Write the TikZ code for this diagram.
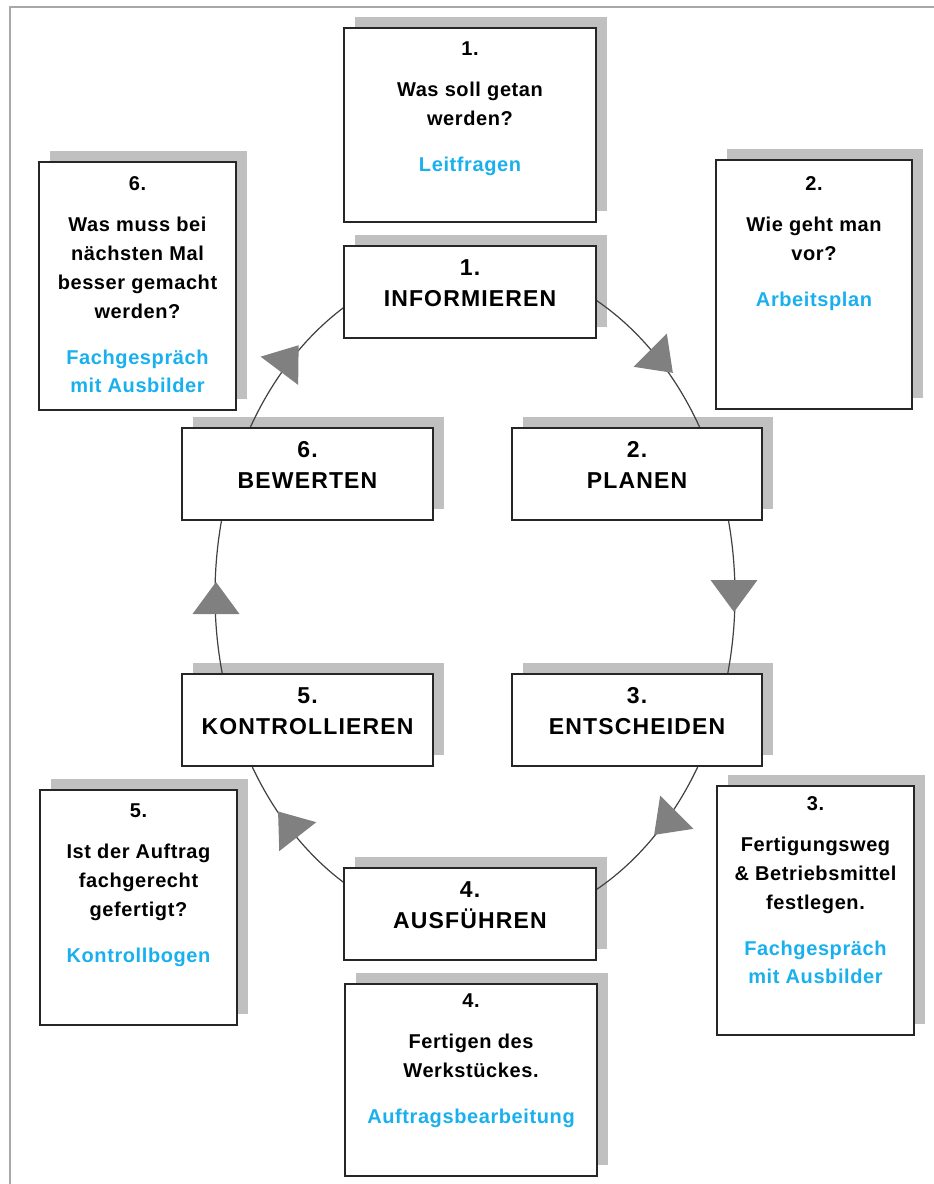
\documentclass[tikz,border=0pt]{standalone}
\usepackage{fontspec}
\setmainfont{Liberation Sans}
\newfontfamily\mainf{Liberation Sans}[LetterSpace=5]
\newfontfamily\infof{Liberation Sans}[LetterSpace=3]
\definecolor{infoblue}{HTML}{1AB0EE}
\definecolor{shadowgray}{HTML}{C0C0C0}
\definecolor{arrowgray}{HTML}{808080}
\definecolor{ringgray}{HTML}{404040}
\definecolor{boxline}{HTML}{262626}
\definecolor{framegray}{HTML}{A8A8A8}
\pgfdeclarelayer{shadowlayer}
\pgfdeclarelayer{ringlayer}
\pgfsetlayers{shadowlayer,ringlayer,main}
\newcommand{\mtext}[4]{\begin{minipage}[t][#2pt][t]{#1pt}\centering\mainf\bfseries\fontsize{23}{31}\selectfont\rule{0pt}{29.5pt}#3\\#4\end{minipage}}
\newcommand{\itext}[6]{\begin{minipage}[t][#2pt][t]{#1pt}\centering\infof\bfseries\fontsize{20}{29}\selectfont\rule{0pt}{#3pt}#4\\[12pt]#5\\[17pt]\color{infoblue}#6\end{minipage}}
\tikzset{
  box/.style={draw=boxline, line width=1.5pt, fill=white, inner sep=0pt, outer sep=0pt, anchor=north west},
  shadowfill/.style={fill=shadowgray},
  tri/.style={fill=arrowgray},
  ring/.style={draw=ringgray, line width=1.2pt},
}
\newcommand{\shadowof}[1]{\fill[shadowfill] ([shift={(11,-11)}]#1.south west) rectangle ([shift={(11,-11)}]#1.north east);}
\newcommand{\arrowat}[3]{\fill[tri, shift={(#1,#2)}, rotate=#3] (21,0) -- (-11,23.5) -- (-11,-23.5) -- cycle;}
\begin{document}
\begin{tikzpicture}[x=1pt,y=-1pt]
\useasboundingbox (0,0) rectangle (934,1184);
\draw[framegray, line width=1.5pt] (10,1184) -- (10,7) -- (934,7);

% info boxes
\node[box] (t1) at (344,28) {\itext{252}{194}{27}{1.}{Was soll getan\\werden?}{Leitfragen}};
\node[box] (t2) at (716,160) {\itext{196}{249}{30}{2.}{Wie geht man\\vor?}{Arbeitsplan}};
\node[box] (t6) at (39,162) {\itext{197}{248}{28}{6.}{Was muss bei\\nächsten Mal\\besser gemacht\\werden?}{Fachgespräch\\[-1pt]mit Ausbilder}};
\node[box] (t3) at (717,786) {\itext{197}{249}{24}{3.}{Fertigungsweg\\\& Betriebsmittel\\festlegen.}{Fachgespräch\\[-1pt]mit Ausbilder}};
\node[box] (t5) at (40,790) {\itext{197}{235}{27}{5.}{Ist der Auftrag\\fachgerecht\\gefertigt?}{Kontrollbogen}};
\node[box] (t4) at (345,984) {\itext{252}{192}{23}{4.}{Fertigen des\\Werkstückes.}{Auftragsbearbeitung}};

% main cycle boxes
\node[box] (m1) at (344,246) {\mtext{252}{92}{1.}{INFORMIEREN}};
\node[box] (m2) at (512,428) {\mtext{250}{92}{2.}{PLANEN}};
\node[box] (m6) at (182,428) {\mtext{251}{92}{6.}{BEWERTEN}};
\node[box] (m3) at (512,674) {\mtext{250}{92}{3.}{ENTSCHEIDEN}};
\node[box] (m5) at (182,674) {\mtext{251}{92}{5.}{KONTROLLIEREN}};
\node[box] (m4) at (344,868) {\mtext{252}{92}{4.}{AUSFÜHREN}};

\begin{pgfonlayer}{shadowlayer}
\foreach \n in {t1,t2,t3,t4,t5,t6,m1,m2,m3,m4,m5,m6} {\shadowof{\n}}
\end{pgfonlayer}

\begin{pgfonlayer}{ringlayer}
\coordinate (ringcenter) at (475,595);
\draw[ring] (ringcenter) ellipse [x radius=260, y radius=333];
\arrowat{658}{358}{-45}
\arrowat{734}{591}{-90}
\arrowat{669}{820}{-135}
\arrowat{291}{828}{128}
\arrowat{216}{603}{90}
\arrowat{286}{362}{53}
\end{pgfonlayer}
\end{tikzpicture}
\end{document}
